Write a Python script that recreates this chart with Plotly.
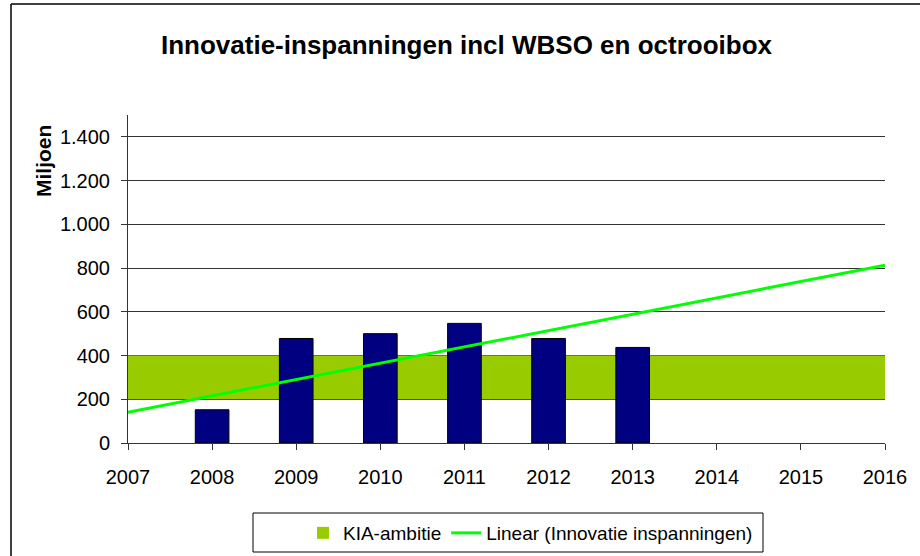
import plotly.graph_objects as go

# ---- data ----
years_axis = [2007, 2008, 2009, 2010, 2011, 2012, 2013, 2014, 2015, 2016]
bar_years = [2008, 2009, 2010, 2011, 2012, 2013]
innovatie = [152, 478, 500, 547, 478, 437]          # Miljoen
kia_years = [2007, 2016]
kia_low = 200
kia_high = 400
trend_years = [2007, 2016]
trend_values = [141, 813]
y_ticks = [0, 200, 400, 600, 800, 1000, 1200, 1400]

FONT = "Liberation Sans, Arial, sans-serif"

fig = go.Figure()

# KIA-ambitie band (as a bar spanning the whole axis)
fig.add_trace(go.Bar(
    x=[(kia_years[0] + kia_years[1]) / 2],
    y=[kia_high - kia_low],
    base=[kia_low],
    width=[kia_years[1] - kia_years[0]],
    marker=dict(color="#99CC00", line=dict(width=0)),
    name="KIA-ambitie",
    showlegend=True,
    hoverinfo="skip",
))

# Innovatie inspanningen bars
fig.add_trace(go.Bar(
    x=bar_years,
    y=innovatie,
    width=0.4,
    marker=dict(color="#000080", line=dict(color="#000000", width=1)),
    name="Innovatie inspanningen",
    showlegend=False,
))

# Linear trendline
fig.add_trace(go.Scatter(
    x=trend_years,
    y=trend_values,
    mode="lines",
    line=dict(color="#00FF00", width=3),
    name="Linear (Innovatie inspanningen)",
))

# plot area px -> paper helpers
L, R, T, B = 128, 885, 115, 443
def px_x(px):
    return (px - L) / (R - L)
def px_y(py):
    return (B - py) / (B - T)

fig.update_layout(
    width=920, height=556,
    margin=dict(l=L, r=920 - R, t=T, b=556 - B, pad=0, autoexpand=False),
    paper_bgcolor="white",
    plot_bgcolor="white",
    barmode="overlay",
    separators=",.",
    font=dict(family=FONT, size=20, color="#000000"),
    title=dict(
        text="Innovatie-inspanningen incl WBSO en octrooibox",
        x=466.5 / 920, xanchor="center",
        y=1 - 45 / 556, yanchor="middle", yref="container",
        font=dict(family=FONT, size=26, color="#000000", weight="bold"),
    ),
    xaxis=dict(
        range=[years_axis[0], years_axis[-1]],
        tickmode="array", tickvals=years_axis,
        ticktext=[str(y) for y in years_axis],
        showgrid=False, zeroline=False,
        showline=True, linecolor="#333333", linewidth=1,
        ticks="outside", ticklen=6, tickcolor="#333333",
        ticklabelstandoff=10,
        tickfont=dict(family=FONT, size=20, color="#000000"),
    ),
    yaxis=dict(
        range=[0, 1500],
        tickmode="array", tickvals=y_ticks,
        tickformat=",d",
        showgrid=True, gridcolor="#333333", gridwidth=1,
        zeroline=False,
        showline=True, linecolor="#333333", linewidth=1,
        ticks="outside", ticklen=6, tickcolor="#333333",
        ticklabelstandoff=7,
        tickfont=dict(family=FONT, size=20, color="#000000"),
    ),
    legend=dict(
        orientation="h",
        x=px_x(303), xanchor="left",
        y=px_y(533), yanchor="middle",
        bgcolor="rgba(0,0,0,0)",
        borderwidth=0,
        font=dict(family=FONT, size=19, color="#000000"),
    ),
    annotations=[dict(
        text="Miljoen", textangle=-90,
        x=px_x(43), y=px_y(161), xref="paper", yref="paper",
        xanchor="center", yanchor="middle", showarrow=False,
        font=dict(family=FONT, size=21, color="#000000", weight="bold"),
    )],
    shapes=[
        # legend frame
        dict(type="rect", xref="paper", yref="paper",
             x0=px_x(253), x1=px_x(763), y0=px_y(552), y1=px_y(513),
             line=dict(color="#000000", width=1), fillcolor="rgba(0,0,0,0)"),
        # outer chart border (left and top)
        dict(type="line", xref="paper", yref="paper",
             x0=px_x(11), x1=px_x(11), y0=px_y(560), y1=px_y(4),
             line=dict(color="#000000", width=1.5)),
        dict(type="line", xref="paper", yref="paper",
             x0=px_x(11), x1=px_x(925), y0=px_y(4), y1=px_y(4),
             line=dict(color="#000000", width=1.5)),
    ],
)

post = """
(function(){
  var h = document.documentElement, b = document.body;
  [h, b].forEach(function(e){
    e.style.margin='0'; e.style.padding='0';
    e.style.overflow='hidden'; e.style.height='556px'; e.style.width='920px';
  });
  var d = document.getElementById('{plot_id}');
  if (d && d.parentElement) {
    d.parentElement.style.height='556px';
    d.parentElement.style.overflow='hidden';
  }
})();
"""

fig.write_html(
    "out.html",
    config={"displayModeBar": False},
    post_script=post,
)
